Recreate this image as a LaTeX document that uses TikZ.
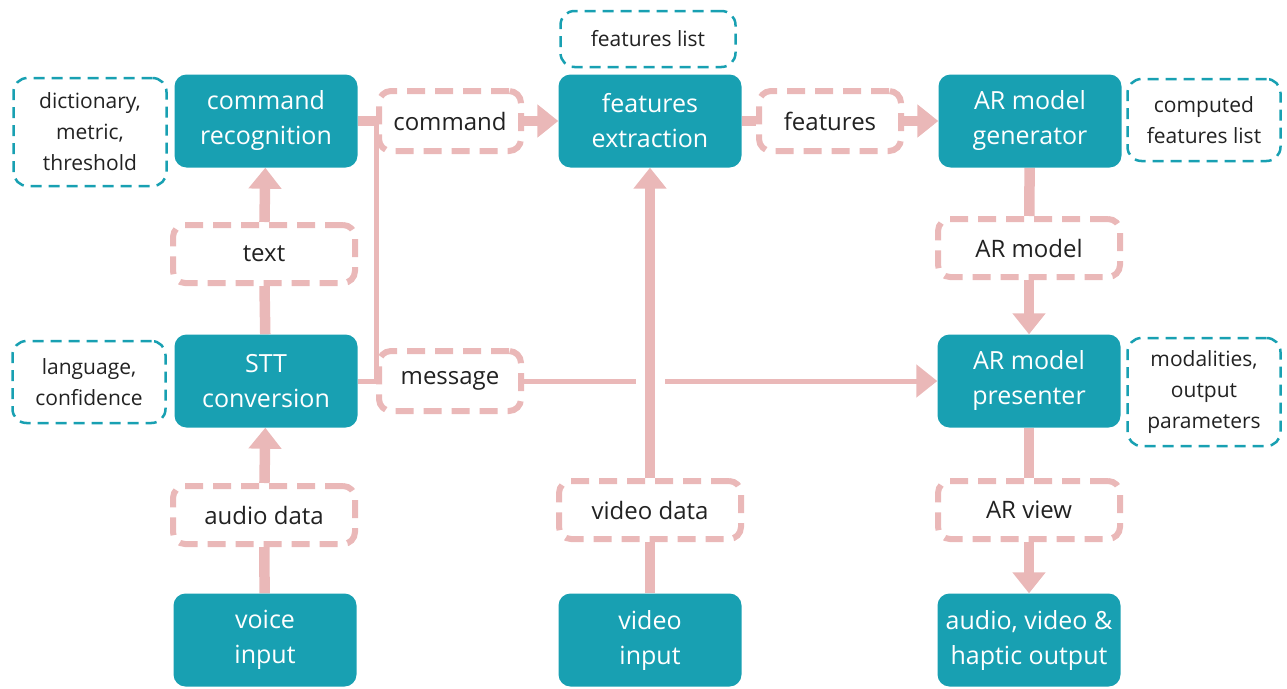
\documentclass[tikz,border=0pt]{standalone}
\usepackage{fontspec}
\setmainfont{Open Sans}
\usepackage{xcolor}
\usetikzlibrary{arrows.meta, backgrounds}

\definecolor{boxteal}{RGB}{24,160,178}
\definecolor{flowpink}{RGB}{234,184,184}
\definecolor{labelgray}{RGB}{34,34,34}

\tikzset{
  proc/.style={fill=boxteal, text=white, rounded corners=12pt, minimum width=183pt,
    minimum height=93pt, align=center, font=\fontsize{25}{35}\selectfont},
  datab/.style={draw=flowpink, fill=white, text=labelgray, line width=6pt, dash pattern=on 18pt off 10pt,
    rounded corners=12pt, minimum width=182pt, minimum height=58pt, font=\fontsize{24}{30}\selectfont},
  parab/.style={draw=boxteal, fill=white, text=labelgray, line width=2.5pt, dash pattern=on 11pt off 7pt,
    rounded corners=14pt, minimum width=153pt, align=center, font=\fontsize{21}{31}\selectfont},
  flow/.style={draw=flowpink, line width=10.5pt},
  flowarr/.style={flow, -{Triangle[width=32pt,length=21pt]}},
  thinflow/.style={draw=flowpink, line width=5pt},
}

\begin{document}
\begin{tikzpicture}[x=1pt, y=-1pt]
    \useasboundingbox (0,0) rectangle (1287,688);

    % Eingabe Sprache
    \node[proc] (voice) at (265,640) {voice\\input};
    \node[datab] (audio) at (264,515) {audio data};
    \node[proc] (stt) at (266,381) {STT\\conversion};
    \node[parab, minimum height=82pt] (lang) at (89,382) {language,\\confidence};
    \node[datab] (text) at (264,254) {text};
    \node[proc] (cmdrec) at (266,121) {command\\recognition};
    \node[parab, minimum height=108pt] (dict) at (90,132) {dictionary,\\metric,\\threshold};
    \node[datab, minimum width=142pt, minimum height=60pt] (cmd) at (450,121) {command};
    \node[datab, minimum width=142pt, minimum height=60pt] (msg) at (450,381) {message};

    % Eingabe Video
    \node[proc] (video) at (650,640) {video\\input};
    \node[datab] (viddata) at (650,510) {video data};
    \node[proc] (feat) at (650,121) {features\\extraction};
    \node[parab, minimum width=175pt, minimum height=56pt] (featlist) at (648,39) {features list};
    \node[datab, minimum width=142pt, minimum height=60pt] (featout) at (830,121) {features};

    % AR
    \node[proc] (gen) at (1030,121) {AR model\\generator};
    \node[parab, minimum height=82pt] (complist) at (1204,120) {computed\\features list};
    \node[datab] (armodel) at (1029,248) {AR model};
    \node[proc] (pres) at (1029,381) {AR model\\presenter};
    \node[parab, minimum height=108pt] (modal) at (1204,392) {modalities,\\output\\parameters};
    \node[datab] (arview) at (1029,510) {AR view};
    \node[proc] (output) at (1029,640) {audio, video \&\\haptic output};

    \begin{scope}[on background layer]
    \draw[flow] (voice) -- (audio);
    \draw[flowarr] (audio) -- (stt);
    \draw[flow] (stt) -- (text);
    \draw[flowarr] (text) -- (cmdrec);
    \draw[flow] (cmdrec) -- (cmd);
    \draw[flowarr] (cmd) -- (feat);
    \draw[thinflow] (stt) -- (msg);
    \draw[thinflow] (msg.west) -- (cmd.west);
    \draw[thinflow, -{Triangle[width=32pt,length=21pt]}] (msg) -- (pres);
    \draw[flow] (video) -- (viddata);
    \draw[flowarr, preaction={draw=white, line width=29pt, -}] (viddata) -- (feat);
    \draw[flow] (feat) -- (featout);
    \draw[flowarr] (featout) -- (gen);
    \draw[flow] (gen) -- (armodel);
    \draw[flowarr] (armodel) -- (pres);
    \draw[flow] (pres) -- (arview);
    \draw[flowarr] (arview) -- (output);
    \end{scope}
\end{tikzpicture}
\end{document}
